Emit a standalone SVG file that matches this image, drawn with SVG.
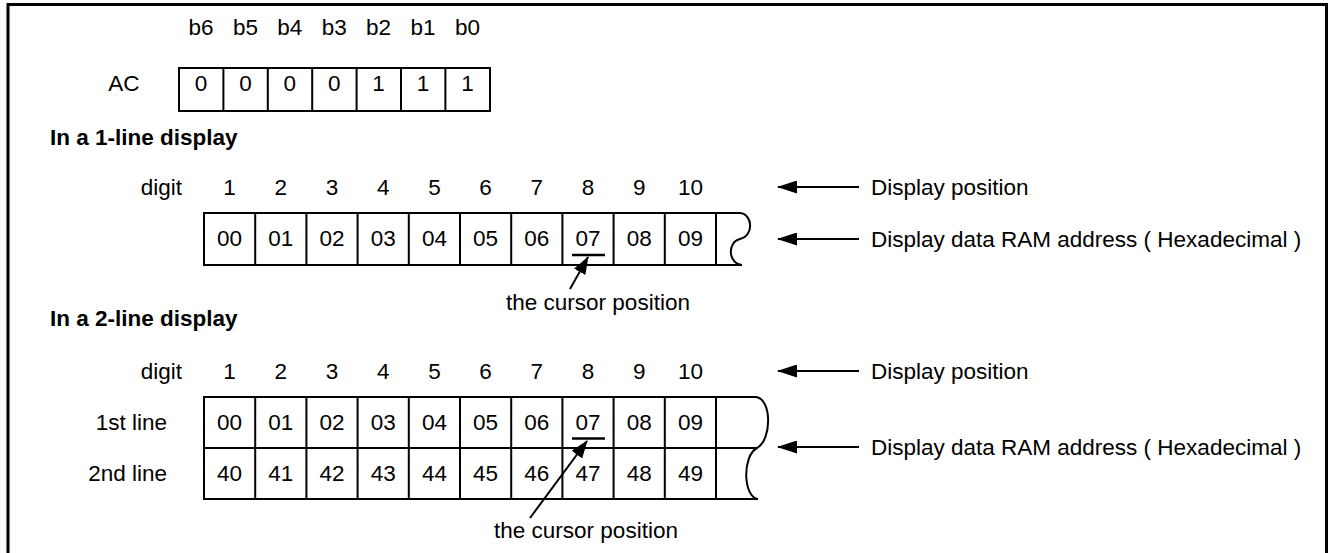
<svg xmlns="http://www.w3.org/2000/svg" width="1328" height="553" viewBox="0 0 1328 553">
<style>
.t{font-family:"Liberation Sans",Arial,sans-serif;font-size:22.5px;fill:#000}
.c{text-anchor:middle}
.e{text-anchor:end}
.b{font-weight:bold}
.cell{fill:none;stroke:#000;stroke-width:2}
.ln{fill:none;stroke:#000;stroke-width:2}
.ar{fill:none;stroke:#000;stroke-width:2}
</style>
<defs>
<marker id="ah" viewBox="0 0 20 13" refX="19" refY="6.5" markerWidth="20" markerHeight="13" markerUnits="userSpaceOnUse" orient="auto">
<path d="M0,0 L20,6.5 L0,13 z" fill="#000"/>
</marker>
<marker id="ah2" viewBox="0 0 18 13" refX="17" refY="6.5" markerWidth="18" markerHeight="13" markerUnits="userSpaceOnUse" orient="auto">
<path d="M0,0 L18,6.5 L0,13 z" fill="#000"/>
</marker>
</defs>
<rect width="1328" height="553" fill="#fff"/>
<rect id="frame" x="8" y="4.5" width="1318.5" height="560" fill="none" stroke="#000" stroke-width="3"/>

<g id="ac-register">
<text class="t c" x="201" y="35">b6</text>
<text class="t c" x="245.4" y="35">b5</text>
<text class="t c" x="289.8" y="35">b4</text>
<text class="t c" x="334.2" y="35">b3</text>
<text class="t c" x="378.6" y="35">b2</text>
<text class="t c" x="423" y="35">b1</text>
<text class="t c" x="467.4" y="35">b0</text>
<text class="t c" x="124" y="91">AC</text>
<rect class="cell" x="179" y="68" width="311" height="43"/>
<path class="ln" d="M223.4,68V111M267.8,68V111M312.2,68V111M356.6,68V111M401,68V111M445.4,68V111"/>
<text class="t c" x="201" y="91">0</text>
<text class="t c" x="245.4" y="91">0</text>
<text class="t c" x="289.8" y="91">0</text>
<text class="t c" x="334.2" y="91">0</text>
<text class="t c" x="378.6" y="91">1</text>
<text class="t c" x="423" y="91">1</text>
<text class="t c" x="467.4" y="91">1</text>
</g>

<g id="one-line-display">
<text class="t b" x="50" y="144.5">In a 1-line display</text>
<text class="t e" x="182" y="195">digit</text>
<text class="t c" x="229.6" y="195">1</text>
<text class="t c" x="280.8" y="195">2</text>
<text class="t c" x="332" y="195">3</text>
<text class="t c" x="383.2" y="195">4</text>
<text class="t c" x="434.4" y="195">5</text>
<text class="t c" x="485.6" y="195">6</text>
<text class="t c" x="536.8" y="195">7</text>
<text class="t c" x="588" y="195">8</text>
<text class="t c" x="639.2" y="195">9</text>
<text class="t c" x="690.4" y="195">10</text>
<path class="cell" d="M204,213H740C753,214 754,236 740,239C727,242 728,264 742,265H204Z"/>
<path class="ln" d="M255.2,213V265M306.4,213V265M357.6,213V265M408.8,213V265M460,213V265M511.2,213V265M562.4,213V265M613.6,213V265M664.8,213V265M716,213V265"/>
<text class="t c" x="229.6" y="246">00</text>
<text class="t c" x="280.8" y="246">01</text>
<text class="t c" x="332" y="246">02</text>
<text class="t c" x="383.2" y="246">03</text>
<text class="t c" x="434.4" y="246">04</text>
<text class="t c" x="485.6" y="246">05</text>
<text class="t c" x="536.8" y="246">06</text>
<text class="t c" x="588" y="246">07</text>
<text class="t c" x="639.2" y="246">08</text>
<text class="t c" x="690.4" y="246">09</text>
<line x1="572" y1="255" x2="605" y2="255" stroke="#000" stroke-width="2.5"/>
<text class="t c" x="598" y="310">the cursor position</text>
<text class="t" x="871" y="195">Display position</text>
<text class="t" x="871" y="247">Display data RAM address ( Hexadecimal )</text>
</g>

<g id="two-line-display">
<text class="t b" x="50" y="326">In a 2-line display</text>
<text class="t e" x="182" y="378.5">digit</text>
<text class="t c" x="229.6" y="378.5">1</text>
<text class="t c" x="280.8" y="378.5">2</text>
<text class="t c" x="332" y="378.5">3</text>
<text class="t c" x="383.2" y="378.5">4</text>
<text class="t c" x="434.4" y="378.5">5</text>
<text class="t c" x="485.6" y="378.5">6</text>
<text class="t c" x="536.8" y="378.5">7</text>
<text class="t c" x="588" y="378.5">8</text>
<text class="t c" x="639.2" y="378.5">9</text>
<text class="t c" x="690.4" y="378.5">10</text>
<text class="t e" x="167" y="429.5">1st line</text>
<text class="t e" x="167" y="481">2nd line</text>
<path class="cell" d="M204,397H756C772,399 772,440 757,448C742,456 743,497 758,499H204Z"/>
<path class="ln" d="M204,448H757M255.2,397V499M306.4,397V499M357.6,397V499M408.8,397V499M460,397V499M511.2,397V499M562.4,397V499M613.6,397V499M664.8,397V499M716,397V499"/>
<text class="t c" x="229.6" y="430">00</text>
<text class="t c" x="280.8" y="430">01</text>
<text class="t c" x="332" y="430">02</text>
<text class="t c" x="383.2" y="430">03</text>
<text class="t c" x="434.4" y="430">04</text>
<text class="t c" x="485.6" y="430">05</text>
<text class="t c" x="536.8" y="430">06</text>
<text class="t c" x="588" y="430">07</text>
<text class="t c" x="639.2" y="430">08</text>
<text class="t c" x="690.4" y="430">09</text>
<text class="t c" x="229.6" y="481">40</text>
<text class="t c" x="280.8" y="481">41</text>
<text class="t c" x="332" y="481">42</text>
<text class="t c" x="383.2" y="481">43</text>
<text class="t c" x="434.4" y="481">44</text>
<text class="t c" x="485.6" y="481">45</text>
<text class="t c" x="536.8" y="481">46</text>
<text class="t c" x="588" y="481">47</text>
<text class="t c" x="639.2" y="481">48</text>
<text class="t c" x="690.4" y="481">49</text>
<line x1="572" y1="438.5" x2="605" y2="438.5" stroke="#000" stroke-width="2.5"/>
<text class="t c" x="586" y="538">the cursor position</text>
<text class="t" x="871" y="379">Display position</text>
<text class="t" x="871" y="455">Display data RAM address ( Hexadecimal )</text>
</g>

<g id="connectors">
<line class="ar" x1="859" y1="187" x2="778" y2="187" marker-end="url(#ah)"/>
<line class="ar" x1="859" y1="239" x2="778" y2="239" marker-end="url(#ah)"/>
<line class="ar" x1="859" y1="371" x2="778" y2="371" marker-end="url(#ah)"/>
<line class="ar" x1="859" y1="447" x2="778" y2="447" marker-end="url(#ah)"/>
<line class="ar" x1="570" y1="289" x2="588" y2="257" marker-end="url(#ah2)"/>
<line class="ar" x1="530" y1="518" x2="587" y2="441" marker-end="url(#ah2)"/>
</g>
</svg>
